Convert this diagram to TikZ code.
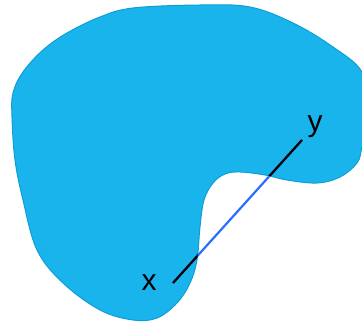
\documentclass[tikz,border=0pt]{standalone}
\usepackage{fontspec}
\setmainfont{Liberation Sans}
\definecolor{blobfill}{RGB}{26,180,236}
\definecolor{blobedge}{RGB}{14,158,214}
\definecolor{segblue}{RGB}{40,110,255}
\begin{document}
\begin{tikzpicture}[x=1pt,y=-1pt,
  lbl/.style={font=\fontsize{30}{30}\selectfont, inner sep=0pt, anchor=center},
  seg/.style={line width=2.2pt}]
\useasboundingbox (0,0) rectangle (362,323);
\def\blobpath{plot[smooth cycle, tension=0.6] coordinates {
 (200,5) (250,7) (293,23) (333,47) (362,72) (370,110) (362,147) (357,163)
 (340,177) (317,183) (287,180) (265,175) (240,172) (225,174) (213,183)
 (204,200) (200,227) (197,260) (190,283) (177,303) (157,318) (133,320)
 (100,310) (63,283) (37,250) (23,200) (15,160) (12,117) (13,93) (23,72)
 (43,50) (67,33) (100,17) (133,8)}}
\fill[blobfill, draw=blobedge, line width=1pt] \blobpath;
\coordinate (px) at (173,283);
\coordinate (py) at (302,140);
\draw[seg, segblue] (px) -- (py);
\begin{scope}
  \clip \blobpath;
  \draw[seg, black] (px) -- (py);
\end{scope}
\node[lbl] (lx) at (149,283) {x};
\node[lbl] (ly) at (315,127) {y};
\end{tikzpicture}
\end{document}
